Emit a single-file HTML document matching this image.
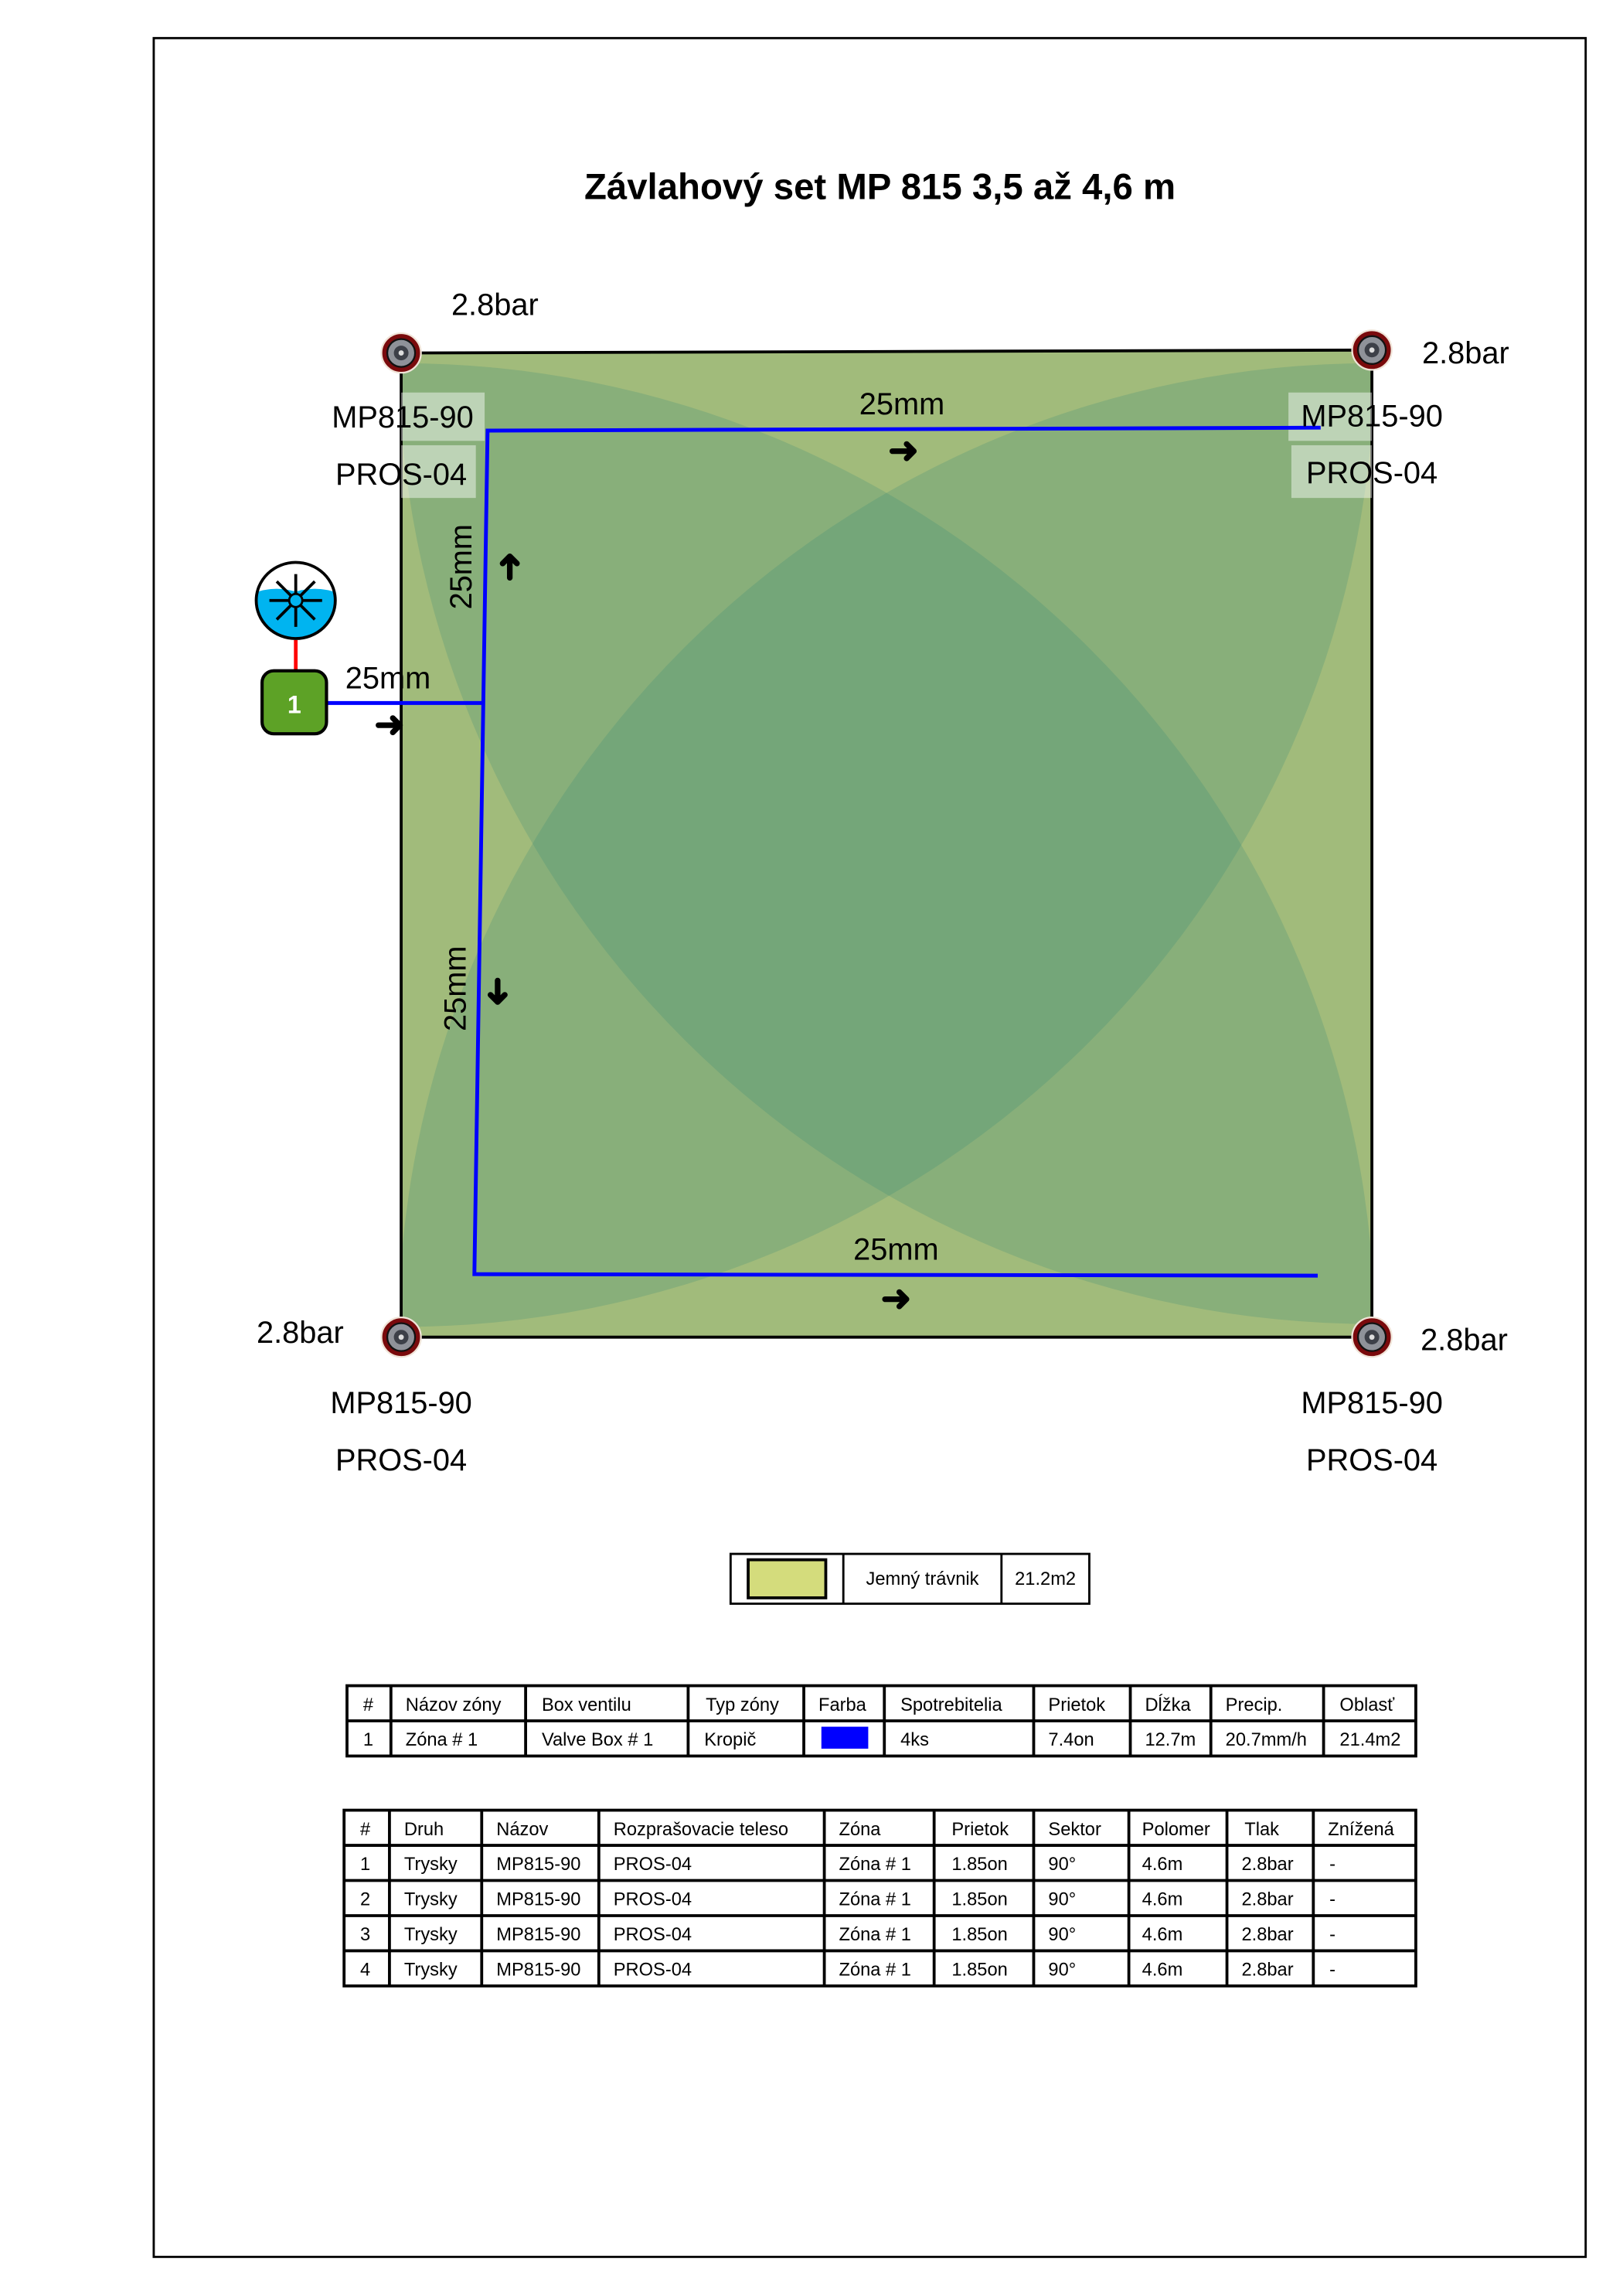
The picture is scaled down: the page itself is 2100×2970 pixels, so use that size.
<!DOCTYPE html>
<html><head><meta charset="utf-8"><style>
html,body{margin:0;padding:0;background:#fff;}
svg{display:block;}
.t{font-family:"Liberation Sans",sans-serif;}
.n{font-family:"Liberation Sans Narrow","Liberation Sans",sans-serif;font-size:12.5px;font-stretch:condensed;}
</style></head><body>
<svg width="2100" height="2970" viewBox="0 0 1108.5 1567.7" xmlns="http://www.w3.org/2000/svg">
<defs>
<clipPath id="fc"><polygon points="274,241 937,239 937,913 274,913"/></clipPath>
<g id="spr">
<circle r="13.5" fill="#7a0a0c" stroke="#f0e4d8" stroke-width="1.2"/>
<circle r="9.5" fill="#8f9299" stroke="#111" stroke-width="1.2"/>
<circle r="5" fill="#3d4048"/>
<circle r="1.8" fill="#ddd"/>
</g>
</defs>
<rect width="1108.5" height="1567.7" fill="#fff"/>
<rect x="105" y="26" width="978" height="1515" fill="none" stroke="#000" stroke-width="1.5"/>
<text class="t" x="601" y="136" font-size="25" font-weight="bold" text-anchor="middle">Závlahový set MP 815 3,5 až 4,6 m</text>

<polygon points="274,241 937,239 937,913 274,913" fill="#e6dc7d"/>
<g clip-path="url(#fc)" fill="rgb(40,130,122)" fill-opacity="0.2">
<circle cx="274" cy="241" r="665"/>
<circle cx="937" cy="239" r="665"/>
<circle cx="274" cy="913" r="665"/>
<circle cx="937" cy="913" r="665"/>
</g>
<polygon points="274,241 937,239 937,913 274,913" fill="none" stroke="#000" stroke-width="2"/>

<rect x="274" y="268" width="57" height="33" fill="#fff" fill-opacity="0.45"/>
<rect x="274" y="304" width="51" height="36" fill="#fff" fill-opacity="0.45"/>
<rect x="880" y="268" width="57" height="33" fill="#fff" fill-opacity="0.45"/>
<rect x="882" y="304" width="55" height="36" fill="#fff" fill-opacity="0.45"/>

<g stroke="#0000ff" stroke-width="2.6" fill="none">
<polyline points="902,292 333,294 324,870 900,871"/>
<line x1="222" y1="480" x2="330" y2="480"/>
</g>

<g class="t" font-size="21" text-anchor="middle">
<text x="616" y="283">25mm</text>
<text x="265" y="470">25mm</text>
<text x="612" y="860">25mm</text>
<text transform="translate(322,387) rotate(-90)">25mm</text>
<text transform="translate(318,675) rotate(-90)">25mm</text>
</g>
<g class="t" font-size="25" font-weight="bold" text-anchor="middle">
<text x="617" y="316">➜</text>
<text x="266" y="503">➜</text>
<text x="612" y="895">➜</text>
<text transform="translate(356,387) rotate(-90)">➜</text>
<text transform="translate(332,677) rotate(90)">➜</text>
</g>

<use href="#spr" x="274" y="241"/>
<use href="#spr" x="937" y="239"/>
<use href="#spr" x="274" y="913"/>
<use href="#spr" x="937" y="913"/>

<g class="t" font-size="21" text-anchor="middle">
<text x="338" y="215">2.8bar</text>
<text x="1001" y="248">2.8bar</text>
<text x="205" y="917">2.8bar</text>
<text x="1000" y="922">2.8bar</text>
<text x="275" y="292">MP815-90</text>
<text x="274" y="331">PROS-04</text>
<text x="937" y="291">MP815-90</text>
<text x="937" y="330">PROS-04</text>
<text x="274" y="965">MP815-90</text>
<text x="274" y="1004">PROS-04</text>
<text x="937" y="965">MP815-90</text>
<text x="937" y="1004">PROS-04</text>
</g>

<line x1="202" y1="437" x2="202" y2="458" stroke="#f00" stroke-width="2.5"/>
<ellipse cx="202" cy="410" rx="27" ry="26" fill="#fff"/>
<path d="M176,404 Q189,400 202,404 Q215,400 228,404 A26,25 0 0 1 202,436 A26,25 0 0 1 176,404 Z" fill="#00b4f0"/>
<ellipse cx="202" cy="410" rx="27" ry="26" fill="none" stroke="#000" stroke-width="2"/>
<g stroke="#000" stroke-width="2">
<line x1="202" y1="392" x2="202" y2="428"/>
<line x1="184" y1="410" x2="220" y2="410"/>
<line x1="189" y1="397" x2="215" y2="423"/>
<line x1="215" y1="397" x2="189" y2="423"/>
</g>
<circle cx="202" cy="410" r="4.5" fill="#00b4f0" stroke="#000" stroke-width="1.5"/>
<rect x="179" y="458" width="44" height="43" rx="8" fill="#5da226" stroke="#000" stroke-width="2.2"/>
<text class="t" x="201" y="487" font-size="17" font-weight="bold" fill="#fff" text-anchor="middle">1</text>

<g stroke="#000" stroke-width="1.5" fill="none">
<rect x="499" y="1061" width="245" height="34"/>
<line x1="576" y1="1061" x2="576" y2="1095"/>
<line x1="684" y1="1061" x2="684" y2="1095"/>
</g>
<rect x="511" y="1065" width="53" height="26" fill="#d4dc7c" stroke="#000" stroke-width="2"/>
<text class="n" x="630" y="1082" text-anchor="middle">Jemný trávnik</text>
<text class="n" x="714" y="1082" text-anchor="middle">21.2m2</text>

<g stroke="#000" stroke-width="2" fill="none">
<rect x="237" y="1151" width="730" height="48"/>
<line x1="237" y1="1175" x2="967" y2="1175"/>
<path d="M267,1151V1199M359,1151V1199M470,1151V1199M549,1151V1199M604,1151V1199M706,1151V1199M772,1151V1199M827,1151V1199M904,1151V1199"/>
</g>
<rect x="561" y="1179" width="32" height="15" fill="#0000ff"/>
<g class="n">
<text x="248" y="1168">#</text><text x="277" y="1168">Názov zóny</text><text x="370" y="1168">Box ventilu</text>
<text x="482" y="1168">Typ zóny</text><text x="559" y="1168">Farba</text><text x="615" y="1168">Spotrebitelia</text>
<text x="716" y="1168">Prietok</text><text x="782" y="1168">Dĺžka</text><text x="837" y="1168">Precip.</text><text x="915" y="1168">Oblasť</text>
<text x="248" y="1192">1</text><text x="277" y="1192">Zóna # 1</text><text x="370" y="1192">Valve Box # 1</text>
<text x="481" y="1192">Kropič</text><text x="615" y="1192">4ks</text>
<text x="716" y="1192">7.4on</text><text x="782" y="1192">12.7m</text><text x="837" y="1192">20.7mm/h</text><text x="915" y="1192">21.4m2</text>
</g>

<g stroke="#000" stroke-width="2" fill="none">
<rect x="235" y="1236" width="732" height="120"/>
<path d="M235,1260H967M235,1284H967M235,1308H967M235,1332H967"/>
<path d="M266,1236V1356M329,1236V1356M409,1236V1356M563,1236V1356M638,1236V1356M706,1236V1356M771,1236V1356M838,1236V1356M897,1236V1356"/>
</g>
<g class="n">
<text x="246" y="1253">#</text><text x="276" y="1253">Druh</text><text x="339" y="1253">Názov</text>
<text x="419" y="1253">Rozprašovacie teleso</text><text x="573" y="1253">Zóna</text><text x="650" y="1253">Prietok</text>
<text x="716" y="1253">Sektor</text><text x="780" y="1253">Polomer</text><text x="850" y="1253">Tlak</text><text x="907" y="1253">Znížená</text>
</g>
<g class="n">
<text x="246" y="1277">1</text><text x="276" y="1277">Trysky</text><text x="339" y="1277">MP815-90</text><text x="419" y="1277">PROS-04</text><text x="573" y="1277">Zóna # 1</text><text x="650" y="1277">1.85on</text><text x="716" y="1277">90°</text><text x="780" y="1277">4.6m</text><text x="848" y="1277">2.8bar</text><text x="908" y="1277">-</text>
<text x="246" y="1301">2</text><text x="276" y="1301">Trysky</text><text x="339" y="1301">MP815-90</text><text x="419" y="1301">PROS-04</text><text x="573" y="1301">Zóna # 1</text><text x="650" y="1301">1.85on</text><text x="716" y="1301">90°</text><text x="780" y="1301">4.6m</text><text x="848" y="1301">2.8bar</text><text x="908" y="1301">-</text>
<text x="246" y="1325">3</text><text x="276" y="1325">Trysky</text><text x="339" y="1325">MP815-90</text><text x="419" y="1325">PROS-04</text><text x="573" y="1325">Zóna # 1</text><text x="650" y="1325">1.85on</text><text x="716" y="1325">90°</text><text x="780" y="1325">4.6m</text><text x="848" y="1325">2.8bar</text><text x="908" y="1325">-</text>
<text x="246" y="1349">4</text><text x="276" y="1349">Trysky</text><text x="339" y="1349">MP815-90</text><text x="419" y="1349">PROS-04</text><text x="573" y="1349">Zóna # 1</text><text x="650" y="1349">1.85on</text><text x="716" y="1349">90°</text><text x="780" y="1349">4.6m</text><text x="848" y="1349">2.8bar</text><text x="908" y="1349">-</text>
</g>
</svg>
</body></html>
